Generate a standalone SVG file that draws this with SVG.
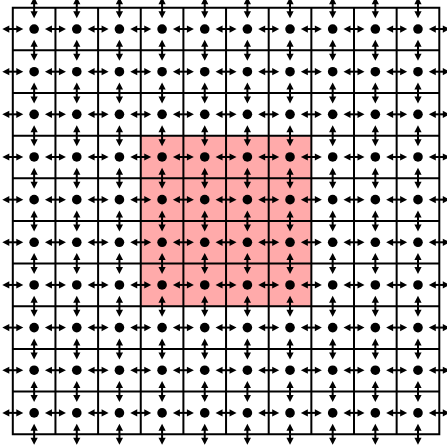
<svg xmlns="http://www.w3.org/2000/svg" xmlns:xlink="http://www.w3.org/1999/xlink" width="447" height="448" viewBox="0 0 447 448">
<style>
.grid{fill:none;stroke:#000;stroke-width:2;stroke-linecap:square}
.shaft{stroke:#000;stroke-width:2}
.head{fill:#000}
.dot{fill:#000}
</style>
<defs>
<g id="ha"><path class="shaft" d="M-5,0H5"/><path class="head" d="M-10.5,0L-3.5,-3.6L-3.5,3.6Z M10.5,0L3.5,-3.6L3.5,3.6Z"/></g>
<g id="va"><use xlink:href="#ha" href="#ha" transform="rotate(90)"/></g>
<g id="vrow">
<use href="#va" x="34.13"/><use href="#va" x="76.78"/><use href="#va" x="119.43"/><use href="#va" x="162.08"/><use href="#va" x="204.73"/><use href="#va" x="247.38"/><use href="#va" x="290.03"/><use href="#va" x="332.68"/><use href="#va" x="375.33"/><use href="#va" x="417.98"/>
</g>
<g id="row">
<use href="#vrow"/>
<g transform="translate(0,21.33)">
<use href="#ha" x="12.8"/><use href="#ha" x="55.45"/><use href="#ha" x="98.1"/><use href="#ha" x="140.75"/><use href="#ha" x="183.4"/><use href="#ha" x="226.05"/><use href="#ha" x="268.7"/><use href="#ha" x="311.35"/><use href="#ha" x="354"/><use href="#ha" x="396.65"/><use href="#ha" x="439.3"/>
<circle class="dot" cx="34.13" r="4.8"/><circle class="dot" cx="76.78" r="4.8"/><circle class="dot" cx="119.43" r="4.8"/><circle class="dot" cx="162.08" r="4.8"/><circle class="dot" cx="204.73" r="4.8"/><circle class="dot" cx="247.38" r="4.8"/><circle class="dot" cx="290.03" r="4.8"/><circle class="dot" cx="332.68" r="4.8"/><circle class="dot" cx="375.33" r="4.8"/><circle class="dot" cx="417.98" r="4.8"/>
</g>
</g>
</defs>
<rect id="highlight" x="140.75" y="135.65" width="170.6" height="170.6" fill="#ffaaaa"/>
<path id="grid" class="grid" d="M12.8,7.7V434.2M55.45,7.7V434.2M98.1,7.7V434.2M140.75,7.7V434.2M183.4,7.7V434.2M226.05,7.7V434.2M268.7,7.7V434.2M311.35,7.7V434.2M354,7.7V434.2M396.65,7.7V434.2M439.3,7.7V434.2M12.8,7.7H439.3M12.8,50.35H439.3M12.8,93H439.3M12.8,135.65H439.3M12.8,178.3H439.3M12.8,220.95H439.3M12.8,263.6H439.3M12.8,306.25H439.3M12.8,348.9H439.3M12.8,391.55H439.3M12.8,434.2H439.3"/>
<g id="connectors">
<use href="#row" y="7.7"/>
<use href="#row" y="50.35"/>
<use href="#row" y="93"/>
<use href="#row" y="135.65"/>
<use href="#row" y="178.3"/>
<use href="#row" y="220.95"/>
<use href="#row" y="263.6"/>
<use href="#row" y="306.25"/>
<use href="#row" y="348.9"/>
<use href="#row" y="391.55"/>
<use href="#vrow" y="434.2"/>
</g>
</svg>
